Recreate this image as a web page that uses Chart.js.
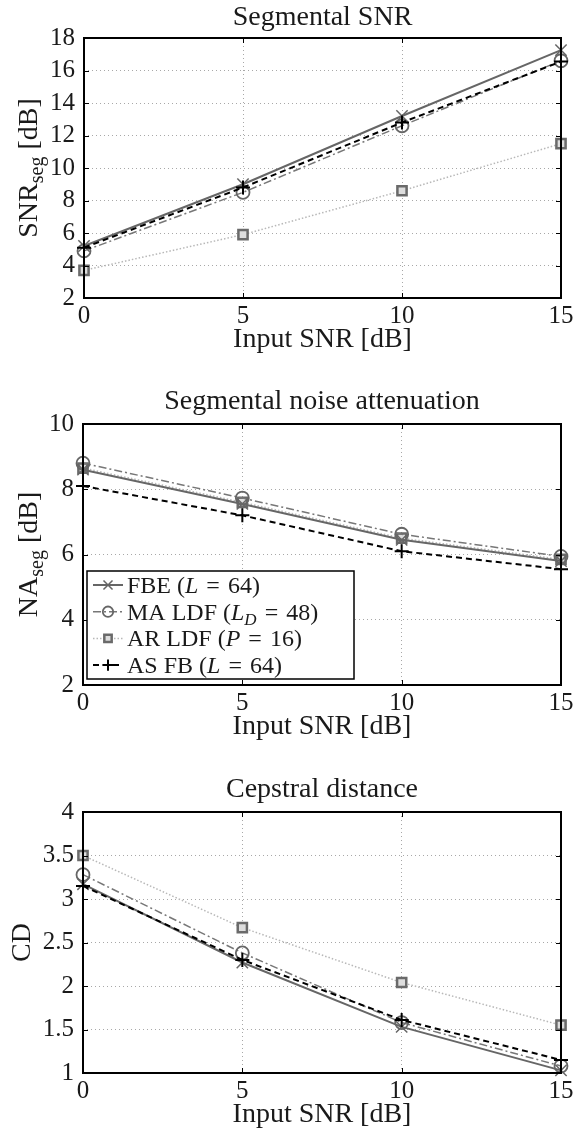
<!DOCTYPE html>
<html>
<head>
<meta charset="utf-8">
<script src="https://cdn.jsdelivr.net/npm/chart.js@4.4.1/dist/chart.umd.min.js"></script>
<style>
  body { margin: 0; background: #fff; }
  .panel { position: absolute; left: 0; width: 577px; }
</style>
</head>
<body>
<div class="panel" style="top:0px;height:370px"><canvas id="snrChart" width="577" height="370"></canvas></div>
<div class="panel" style="top:370px;height:390px"><canvas id="naChart" width="577" height="390"></canvas></div>
<div class="panel" style="top:760px;height:373px"><canvas id="cdChart" width="577" height="373"></canvas></div>
<script>
// input SNR values on the x axis
const inputSnr = [0, 5, 10, 15];

// segmental SNR [dB]
const fbeSnr = [5.2, 9.0, 13.2, 17.25];
const maSnr  = [4.9, 8.5, 12.6, 16.6];
const arSnr  = [3.7, 5.9, 8.6, 11.5];
const asSnr  = [5.1, 8.8, 12.8, 16.55];

// segmental noise attenuation [dB]
const fbeNa = [8.6, 7.55, 6.45, 5.8];
const maNa  = [8.8, 7.73, 6.62, 5.94];
const arNa  = [8.65, 7.6, 6.5, 5.85];
const asNa  = [8.1, 7.2, 6.1, 5.55];

// cepstral distance
const fbeCd = [3.17, 2.27, 1.53, 1.03];
const maCd  = [3.28, 2.38, 1.58, 1.08];
const arCd  = [3.5, 2.67, 2.04, 1.55];
const asCd  = [3.15, 2.3, 1.61, 1.15];

// legend text, split in runs: n = normal, i = italic, si = italic subscript
const legendLabels = [
  [['FBE (', 'n'], ['L', 'i'], ['\u2004=\u200464)', 'n']],
  [['MA LDF (', 'n'], ['L', 'i'], ['D', 'si'], ['\u2004=\u200448)', 'n']],
  [['AR LDF (', 'n'], ['P', 'i'], ['\u2004=\u200416)', 'n']],
  [['AS FB (', 'n'], ['L', 'i'], ['\u2004=\u200464)', 'n']]
];

const FONT = 'Liberation Serif';
const TEXT = '#1a1a1a';

// line look of the four methods
const looks = [
  { borderColor: '#666', borderWidth: 2, borderDash: [], pointStyle: 'crossRot', pointRadius: 8,
    pointBorderColor: '#666', pointBackgroundColor: '#666', pointBorderWidth: 1.5, order: 1 },
  { borderColor: '#777', borderWidth: 1.5, borderDash: [8, 3, 2, 3], pointStyle: 'circle', pointRadius: 6.5,
    pointBorderColor: '#666', pointBackgroundColor: 'rgba(0,0,0,0)', pointBorderWidth: 1.8, order: 2 },
  { borderColor: '#b8b8b8', borderWidth: 1.5, borderDash: [1.5, 2], pointStyle: 'rect', pointRadius: 6.5,
    pointBorderColor: '#6a6a6a', pointBackgroundColor: '#ddd', pointBorderWidth: 2.5, order: 3 },
  { borderColor: '#000', borderWidth: 2, borderDash: [6, 4], pointStyle: 'cross', pointRadius: 7,
    pointBorderColor: '#000', pointBackgroundColor: '#000', pointBorderWidth: 2, order: 0 }
];

function runFont(style, size) {
  if (style === 'i') return 'italic ' + size + 'px ' + FONT;
  if (style === 's') return Math.round(size * 0.7) + 'px ' + FONT;
  if (style === 'si') return 'italic ' + Math.round(size * 0.7) + 'px ' + FONT;
  return size + 'px ' + FONT;
}
function runsWidth(ctx, runs, size) {
  let w = 0;
  runs.forEach(r => { ctx.font = runFont(r[1], size); w += ctx.measureText(r[0]).width; });
  return w;
}
function drawRuns(ctx, runs, x, y, size) {
  runs.forEach(r => {
    ctx.font = runFont(r[1], size);
    const dy = (r[1] === 's' || r[1] === 'si') ? size * 0.22 : 0;
    ctx.fillText(r[0], x, y + dy);
    x += ctx.measureText(r[0]).width;
  });
}

const deco = {
  id: 'deco',
  afterDraw(chart, args, o) {
    const ctx = chart.ctx;
    const a = chart.chartArea;
    const xs = chart.scales.x, ys = chart.scales.y;
    ctx.save();
    // small inward tick marks
    ctx.strokeStyle = '#000';
    ctx.lineWidth = 1;
    ctx.beginPath();
    xs.ticks.forEach(t => {
      const p = Math.round(xs.getPixelForValue(t.value)) + 0.5;
      ctx.moveTo(p, a.bottom); ctx.lineTo(p, a.bottom - 5);
      ctx.moveTo(p, a.top); ctx.lineTo(p, a.top + 5);
    });
    ys.ticks.forEach(t => {
      const p = Math.round(ys.getPixelForValue(t.value)) + 0.5;
      ctx.moveTo(a.left, p); ctx.lineTo(a.left + 5, p);
      ctx.moveTo(a.right, p); ctx.lineTo(a.right - 5, p);
    });
    ctx.stroke();
    // box
    ctx.lineWidth = 2;
    ctx.strokeRect(a.left, a.top, a.right - a.left, a.bottom - a.top);

    // title and x label
    const cx = (a.left + a.right) / 2;
    ctx.fillStyle = TEXT;
    ctx.textAlign = 'center';
    ctx.textBaseline = 'alphabetic';
    ctx.font = '28px ' + FONT;
    ctx.fillText(o.title, cx, o.titleY);
    ctx.fillText('Input SNR [dB]', cx, a.bottom + 49);

    // rotated y label
    ctx.save();
    ctx.translate(o.yLabelX, (a.top + a.bottom) / 2);
    ctx.rotate(-Math.PI / 2);
    ctx.textAlign = 'left';
    const w = runsWidth(ctx, o.yLabel, 28);
    drawRuns(ctx, o.yLabel, -w / 2, 0, 28);
    ctx.restore();

    // legend
    if (o.legend) {
      const L = o.legend;
      ctx.fillStyle = '#fff';
      ctx.fillRect(L.x, L.y, L.w, L.h);
      ctx.strokeStyle = '#000';
      ctx.lineWidth = 1.5;
      ctx.strokeRect(L.x, L.y, L.w, L.h);
      legendLabels.forEach((runs, i) => {
        const st = looks[i];
        const yy = L.y + L.first + i * L.step;
        ctx.save();
        ctx.strokeStyle = st.borderColor;
        ctx.lineWidth = st.borderWidth;
        ctx.setLineDash(st.borderDash);
        ctx.beginPath();
        ctx.moveTo(L.x + 6, yy); ctx.lineTo(L.x + 36, yy);
        ctx.stroke();
        ctx.restore();
        ctx.save();
        ctx.strokeStyle = st.pointBorderColor;
        ctx.fillStyle = st.pointBackgroundColor;
        ctx.lineWidth = st.pointBorderWidth;
        Chart.helpers.drawPoint(ctx, { pointStyle: st.pointStyle, radius: st.pointRadius * 0.8, borderWidth: st.pointBorderWidth, rotation: 0 }, L.x + 21, yy);
        ctx.restore();
        ctx.fillStyle = TEXT;
        ctx.textAlign = 'left';
        drawRuns(ctx, runs, L.x + 40, yy + 8, 24);
      });
    }
    ctx.restore();
  }
};

function makeChart(id, series, yMin, yMax, yStep, box, decoOpts) {
  const ctx = document.getElementById(id).getContext('2d');
  const datasets = series.map((vals, i) => Object.assign({
    label: legendLabels[i].map(r => r[0]).join(''),
    data: vals,
    fill: false,
    tension: 0,
    clip: false
  }, looks[i]));

  return new Chart(ctx, {
    type: 'line',
    data: { labels: inputSnr, datasets: datasets },
    options: {
      responsive: false,
      animation: false,
      layout: { padding: { top: box.top, right: box.right, left: 0, bottom: 0 } },
      plugins: { legend: { display: false }, tooltip: { enabled: false }, deco: decoOpts },
      scales: {
        x: {
          type: 'linear',
          min: 0, max: 15,
          afterFit: s => { s.height = box.xh; },
          grid: { color: '#a8a8a8', lineWidth: 1, drawTicks: false },
          border: { display: false, dash: [1, 3] },
          ticks: { stepSize: 5, padding: 3, autoSkip: false, maxRotation: 0, color: TEXT, font: { family: FONT, size: 25 } }
        },
        y: {
          min: yMin, max: yMax,
          afterFit: s => { s.width = box.left; },
          grid: { color: '#a8a8a8', lineWidth: 1, drawTicks: false },
          border: { display: false, dash: [1, 3] },
          ticks: {
            stepSize: yStep, padding: 9, autoSkip: false, color: TEXT,
            font: { family: FONT, size: 25 },
            callback: v => String(Math.round(v * 10) / 10)
          }
        }
      }
    },
    plugins: [deco]
  });
}

// pair each dataset with x values
function pts(vals) { return vals.map((v, i) => ({ x: inputSnr[i], y: v })); }

makeChart('snrChart', [pts(fbeSnr), pts(maSnr), pts(arSnr), pts(asSnr)], 2, 18, 2,
  { top: 38, right: 16, left: 84, xh: 72 },
  { title: 'Segmental SNR', titleY: 25, yLabelX: 37,
    yLabel: [['SNR', 'n'], ['seg', 's'], [' [dB]', 'n']] });

makeChart('naChart', [pts(fbeNa), pts(maNa), pts(arNa), pts(asNa)], 2, 10, 2,
  { top: 54, right: 16, left: 83, xh: 75 },
  { title: 'Segmental noise attenuation', titleY: 39, yLabelX: 37,
    yLabel: [['NA', 'n'], ['seg', 's'], [' [dB]', 'n']],
    legend: { x: 87, y: 201, w: 267, h: 108, first: 14, step: 26.7 } });

makeChart('cdChart', [pts(fbeCd), pts(maCd), pts(arCd), pts(asCd)], 1, 4, 0.5,
  { top: 52, right: 16, left: 83, xh: 60 },
  { title: 'Cepstral distance', titleY: 37, yLabelX: 30,
    yLabel: [['CD', 'n']] });
</script>
</body>
</html>
